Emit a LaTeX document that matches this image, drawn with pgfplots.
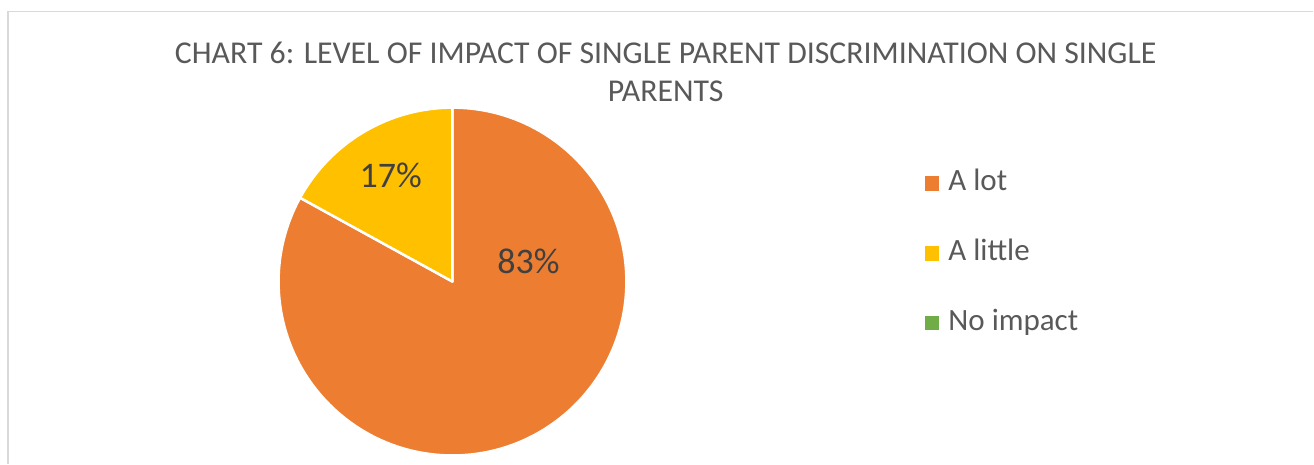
\documentclass[border=0pt]{standalone}
\usepackage{fontspec}
\setmainfont{Carlito}
\usepackage{pgfplots}
\usepackage{pgfplotstable}
\pgfplotsset{compat=1.18}
\definecolor{cOrange}{HTML}{ED7D31}
\definecolor{cYellow}{HTML}{FFC000}
\definecolor{cGreen}{HTML}{70AD47}
\definecolor{cTitle}{HTML}{595959}
\definecolor{cLabel}{HTML}{404040}
\definecolor{cBorder}{HTML}{D9D9D9}
\pgfplotstableread{
label value
{A lot} 83
{A little} 17
{No impact} 0
}\piedata
\pgfplotstablegetelem{0}{value}\of\piedata \let\vA\pgfplotsretval
\pgfplotstablegetelem{1}{value}\of\piedata \let\vB\pgfplotsretval
\pgfplotstablegetelem{2}{value}\of\piedata \let\vC\pgfplotsretval
\pgfmathsetmacro{\aA}{90-3.6*\vA}
\pgfmathsetmacro{\aBB}{90+3.6*\vB}
\begin{document}
\begin{tikzpicture}
\begin{axis}[
  x=1bp, y=1bp, xmin=0, xmax=1314, ymin=0, ymax=464,
  hide axis, clip=false,
  legend style={draw=none, fill=none, at={(axis cs:922,298)}, anchor=north west,
    font=\fontsize{31bp}{37bp}\selectfont, text=cTitle, row sep=40bp,
    nodes={inner sep=0pt, text height=22bp, text depth=8bp},
    column sep=0pt},
  legend cell align=left,
]
\path (axis cs:0,0) rectangle (axis cs:1314,464);
\draw[cBorder, line width=1.3bp] (axis cs:8,0) -- (axis cs:8,452.5) -- (axis cs:1314,452.5);
% pie slices
\fill[cOrange, draw=white, line width=2.5bp, line join=round] (axis cs:452.7,182.3) -- ++(90:174bp) arc[start angle=90, end angle=\aA, radius=174bp] -- cycle;
\fill[cYellow, draw=white, line width=2.5bp, line join=round] (axis cs:452.7,182.3) -- ++(\aBB:174bp) arc[start angle=\aBB, end angle=90, radius=174bp] -- cycle;
\node[text=cLabel, font=\fontsize{36bp}{44bp}\selectfont, anchor=base] at (axis cs:391,276.7) {17\%};
\node[text=cLabel, font=\fontsize{36bp}{44bp}\selectfont, anchor=base] at (axis cs:528.8,190.7) {83\%};
\node[text=cTitle, font=\fontsize{31.8bp}{38.4bp}\selectfont, align=center, anchor=base] at (axis cs:666,362.3)
  {CHART 6: LEVEL OF IMPACT OF SINGLE PARENT DISCRIMINATION ON SINGLE\\PARENTS};
\addlegendimage{legend image code/.code={\fill[cOrange] (0bp,-6.65bp) rectangle (13.3bp,6.65bp);}}
\addlegendentry{\hspace*{10bp}A lot}
\addlegendimage{legend image code/.code={\fill[cYellow] (0bp,-6.65bp) rectangle (13.3bp,6.65bp);}}
\addlegendentry{\hspace*{10bp}A little}
\addlegendimage{legend image code/.code={\fill[cGreen] (0bp,-6.65bp) rectangle (13.3bp,6.65bp);}}
\addlegendentry{\hspace*{10bp}No impact}
\end{axis}
\end{tikzpicture}
\end{document}
